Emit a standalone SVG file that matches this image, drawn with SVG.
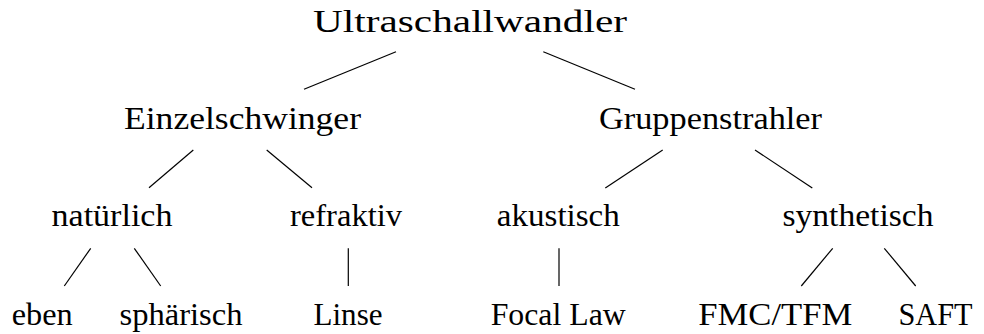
<svg xmlns="http://www.w3.org/2000/svg" width="984" height="334" viewBox="0 0 984 334">
  <style>
    .lbl { font-family: "Liberation Serif", "DejaVu Serif", serif; font-size: 31px; fill: #000; text-anchor: middle; }
    .edge { stroke: #000; stroke-width: 1.2; fill: none; }
  </style>
  <rect width="984" height="334" fill="#fff"/>

  <g id="connectors">
    <line class="edge" x1="396" y1="51.7" x2="304" y2="89.3"/>
    <line class="edge" x1="543.3" y1="51.7" x2="635" y2="89.3"/>
    <line class="edge" x1="193.3" y1="150" x2="149" y2="187.7"/>
    <line class="edge" x1="266.7" y1="150" x2="312" y2="187.7"/>
    <line class="edge" x1="662.7" y1="150" x2="605.3" y2="188"/>
    <line class="edge" x1="755" y1="150" x2="812.3" y2="188"/>
    <line class="edge" x1="90.7" y1="248.3" x2="64.3" y2="286"/>
    <line class="edge" x1="134.3" y1="248.3" x2="160.7" y2="286"/>
    <line class="edge" x1="348.3" y1="248.3" x2="348.3" y2="286"/>
    <line class="edge" x1="559" y1="248.3" x2="559" y2="286"/>
    <line class="edge" x1="832.7" y1="248.3" x2="801.3" y2="286"/>
    <line class="edge" x1="884.3" y1="248.3" x2="915.7" y2="286"/>
  </g>

  <g id="ultraschallwandler"><text class="lbl" x="470" y="32" textLength="314" lengthAdjust="spacingAndGlyphs">Ultraschallwandler</text></g>
  <g id="einzelschwinger"><text class="lbl" x="242.5" y="129" textLength="237" lengthAdjust="spacingAndGlyphs">Einzelschwinger</text></g>
  <g id="gruppenstrahler"><text class="lbl" x="710.5" y="129" textLength="223" lengthAdjust="spacingAndGlyphs">Gruppenstrahler</text></g>
  <g id="natuerlich"><text class="lbl" x="112" y="226" textLength="121" lengthAdjust="spacingAndGlyphs">natürlich</text></g>
  <g id="refraktiv"><text class="lbl" x="346" y="226" textLength="112" lengthAdjust="spacingAndGlyphs">refraktiv</text></g>
  <g id="akustisch"><text class="lbl" x="558.3" y="226" textLength="123" lengthAdjust="spacingAndGlyphs">akustisch</text></g>
  <g id="synthetisch"><text class="lbl" x="858" y="226" textLength="151" lengthAdjust="spacingAndGlyphs">synthetisch</text></g>
  <g id="eben"><text class="lbl" x="42.2" y="325" textLength="61" lengthAdjust="spacingAndGlyphs">eben</text></g>
  <g id="sphaerisch"><text class="lbl" x="181" y="325" textLength="123" lengthAdjust="spacingAndGlyphs">sphärisch</text></g>
  <g id="linse"><text class="lbl" x="348" y="325" textLength="69" lengthAdjust="spacingAndGlyphs">Linse</text></g>
  <g id="focal-law"><text class="lbl" x="558.2" y="325" textLength="135" lengthAdjust="spacingAndGlyphs">Focal Law</text></g>
  <g id="fmc-tfm"><text class="lbl" x="775.3" y="325" textLength="154" lengthAdjust="spacingAndGlyphs">FMC/TFM</text></g>
  <g id="saft"><text class="lbl" x="935.5" y="325" textLength="74" lengthAdjust="spacingAndGlyphs">SAFT</text></g>
</svg>
